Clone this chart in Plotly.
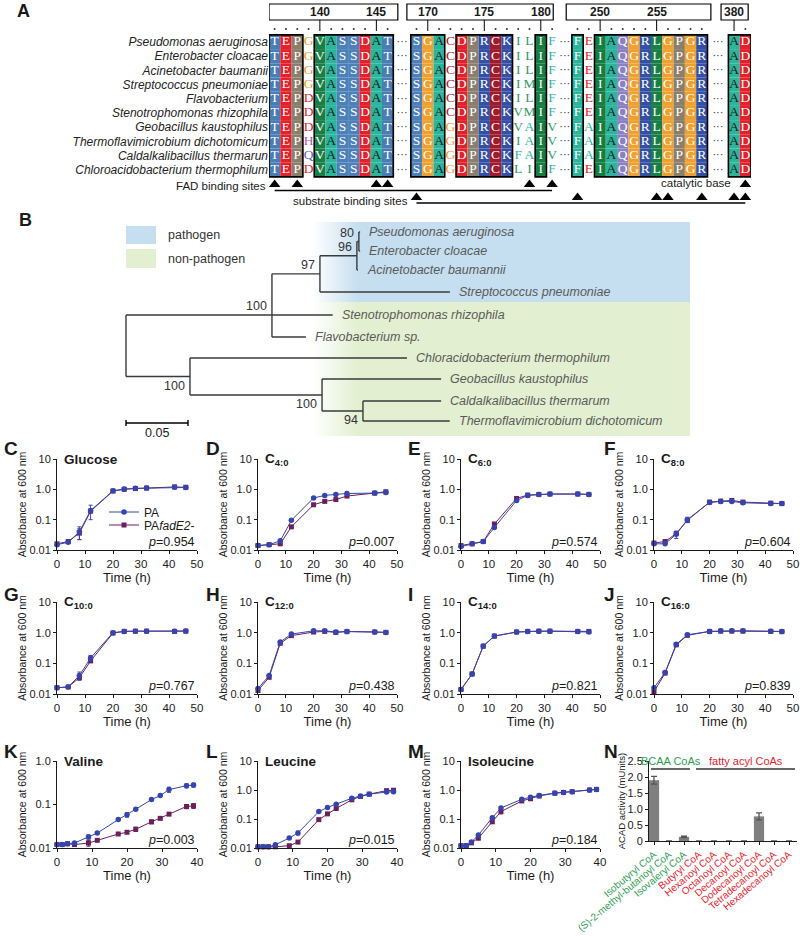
import plotly.graph_objects as go

W, H = 800, 937
SANS = "Liberation Sans, Arial, Helvetica, sans-serif"
SERIF = "Liberation Serif, Times New Roman, serif"
INK = "#1a1a1a"
PA_COLOR = "#3545b0"
FAD_COLOR = "#6d1f5c"

# ======================= DATA =======================
# ---- Panel A: alignment ----
species_A = ["Pseudomonas aeruginosa", "Enterobacter cloacae", "Acinetobacter baumanii",
             "Streptococcus pneumoniae", "Flavobacterium", "Stenotrophomonas rhizophila",
             "Geobacillus kaustophilus", "Thermoflavimicrobium dichotomicum",
             "Caldalkalibacillus thermarun", "Chloroacidobacterium thermophilum"]
block1 = ["TEPGVASSDAT", "TEPGVASSDAT", "TEPGVASSDAT", "TEPGVASSDAT", "TEPDVASSDAT",
          "TEPDVASSDAT", "TEPDVASSDAT", "TEPHVASSDAT", "TEPQVASSDAT", "TEPDVASSDAT"]
block2 = ["SGACDPRCKILIF", "SGACDPRCKILIF", "SGACDPRCKILIF", "SGACDPRCKIMIF", "SGACDPRCKILIF",
          "SGACDPRCKVMIF", "SGAGDPRCKVAIV", "SGAGDPRCKIAIV", "SGAGDPRCKFAIV", "SGAGDPRCKLIIF"]
block3 = ["FEIAQGRLGPGR", "FEIAQGRLGPGR", "FEIAQGRLGPGR", "FEIAQGRLGPGR", "FEIAQGRLGPGR",
          "FEIAQGRLGPGR", "FAIAQGRLGPGR", "FAIAQGRLGPGR", "FAIAQGRLGPGR", "FEIAQGRLGPGR"]
block4 = ["AD"] * 10
block_first_residue = [136, 169, 248, 380]
numbered_residues = [[140, 145], [170, 175, 180], [250, 255], [380]]
conserved_boxes = [(0, 0, 2), (0, 4, 10), (1, 0, 2), (1, 4, 8), (1, 11, 11), (2, 0, 0), (2, 2, 11), (3, 0, 1)]
fad_sites = [(0, 0), (0, 2), (0, 9), (0, 10), (1, 10), (1, 12)]
substrate_sites = [(1, 0), (2, 0), (2, 7), (2, 8), (2, 11), (3, 0), (3, 1)]
catalytic_sites = [(3, 1)]

# ---- Panel B: tree ----
tree_nodes = ["root", "n100a", "n97", "n96", "n80", "Pa", "Ec", "Ab", "Sp", "Sr", "Fl",
              "n100b", "Ct", "n100c", "Gk", "n94", "Cth", "Td"]
tree_parent = [None, "root", "n100a", "n97", "n96", "n80", "n80", "n96", "n97", "n100a", "n100a",
               "root", "n100b", "n100b", "n100c", "n100c", "n94", "n94"]
tree_length = [0, 0.1177, 0.0387, 0.0298, 0.0016, 0.0010, 0.0010, 0.0008, 0.1048, 0.0490, 0.0274,
               0.0516, 0.1750, 0.1065, 0.0960, 0.0330, 0.0630, 0.0700]
tree_support = {"n80": 80, "n96": 96, "n97": 97, "n100a": 100, "n100b": 100, "n100c": 100, "n94": 94}
support_side = {"n80": "top", "n96": "top", "n97": "top", "n100a": "top",
                "n100b": "bottom", "n100c": "bottom", "n94": "bottom"}
leaf_ids = ["Pa", "Ec", "Ab", "Sp", "Sr", "Fl", "Ct", "Gk", "Cth", "Td"]
leaf_names = ["Pseudomonas aeruginosa", "Enterobacter cloacae", "Acinetobacter baumannii",
              "Streptococcus pneumoniae", "Stenotrophomonas rhizophila", "Flavobacterium sp.",
              "Chloracidobacterium thermophilum", "Geobacillus kaustophilus",
              "Caldalkalibacillus thermarum", "Thermoflavimicrobium dichotomicum"]
leaf_order = [0, 0.95, 1.9, 3.0, 4.15, 5.25, 6.3, 7.35, 8.45, 9.45]

# ---- Growth curves ----
t_fa = [0, 4, 8, 12, 20, 24, 28, 32, 42, 46]
t_aa = [0, 1.5, 3, 5, 9, 11.5, 17.5, 20, 22.5, 27, 29.5, 32, 37, 39]

glucose_pa = [0.015, 0.018, 0.040, 0.20, 0.90, 1.02, 1.08, 1.10, 1.18, 1.15]
glucose_fad = [0.016, 0.019, 0.036, 0.19, 0.88, 1.00, 1.06, 1.10, 1.20, 1.17]
glucose_pa_err = [0, 0, 0.018, 0.10, 0.08, 0, 0, 0, 0, 0]
glucose_fad_err = [0, 0, 0.014, 0, 0, 0, 0, 0, 0, 0]
c4_pa = [0.014, 0.015, 0.020, 0.095, 0.52, 0.63, 0.68, 0.73, 0.75, 0.78]
c4_fad = [0.014, 0.015, 0.016, 0.058, 0.31, 0.40, 0.46, 0.60, 0.75, 0.83]
c6_pa = [0.013, 0.016, 0.019, 0.055, 0.43, 0.63, 0.67, 0.70, 0.70, 0.68]
c6_fad = [0.014, 0.016, 0.019, 0.072, 0.50, 0.65, 0.68, 0.70, 0.70, 0.68]
c8_pa = [0.016, 0.016, 0.033, 0.100, 0.37, 0.40, 0.40, 0.36, 0.34, 0.34]
c8_fad = [0.017, 0.019, 0.035, 0.095, 0.38, 0.41, 0.43, 0.38, 0.35, 0.34]
c8_pa_err = [0, 0, 0.009, 0.02, 0, 0, 0.04, 0, 0, 0]
c10_pa = [0.016, 0.017, 0.040, 0.15, 1.00, 1.10, 1.12, 1.12, 1.12, 1.13]
c10_fad = [0.016, 0.017, 0.034, 0.12, 0.97, 1.10, 1.12, 1.12, 1.10, 1.12]
c10_pa_err = [0, 0, 0.012, 0.03, 0, 0, 0, 0, 0, 0]
c12_pa = [0.015, 0.040, 0.50, 0.90, 1.15, 1.15, 1.05, 1.10, 1.05, 1.02]
c12_fad = [0.013, 0.035, 0.45, 0.80, 1.05, 1.10, 1.02, 1.08, 1.05, 1.02]
c14_pa = [0.014, 0.045, 0.37, 0.78, 1.05, 1.10, 1.12, 1.12, 1.10, 1.05]
c14_fad = [0.014, 0.045, 0.36, 0.77, 1.05, 1.10, 1.12, 1.12, 1.10, 1.10]
c16_pa = [0.016, 0.050, 0.42, 0.85, 1.10, 1.15, 1.15, 1.15, 1.12, 1.10]
c16_fad = [0.012, 0.048, 0.40, 0.82, 1.10, 1.12, 1.12, 1.12, 1.10, 1.08]
val_pa = [0.012, 0.012, 0.0125, 0.013, 0.018, 0.022, 0.045, 0.058, 0.078, 0.13, 0.16, 0.22, 0.27, 0.28]
val_fad = [0.012, 0.012, 0.0125, 0.012, 0.013, 0.015, 0.021, 0.023, 0.027, 0.040, 0.048, 0.060, 0.090, 0.093]
val_pa_err = [0, 0, 0, 0, 0.002, 0, 0, 0.007, 0, 0, 0, 0.03, 0.03, 0.03]
val_fad_err = [0, 0, 0, 0, 0.002, 0, 0, 0, 0.003, 0.004, 0, 0, 0.01, 0.012]
leu_pa = [0.011, 0.011, 0.011, 0.013, 0.022, 0.033, 0.18, 0.25, 0.32, 0.52, 0.62, 0.72, 0.85, 0.87]
leu_fad = [0.011, 0.011, 0.011, 0.011, 0.012, 0.016, 0.095, 0.15, 0.23, 0.46, 0.60, 0.72, 0.95, 0.98]
leu_pa_err = [0, 0, 0, 0, 0, 0.005, 0, 0, 0, 0, 0, 0, 0, 0]
ile_pa = [0.012, 0.012, 0.016, 0.028, 0.11, 0.24, 0.48, 0.56, 0.65, 0.78, 0.82, 0.87, 1.00, 1.05]
ile_fad = [0.012, 0.012, 0.015, 0.022, 0.08, 0.18, 0.42, 0.50, 0.62, 0.78, 0.82, 0.87, 1.00, 1.05]
ile_fad_err = [0, 0, 0, 0.003, 0.01, 0.03, 0, 0, 0, 0, 0, 0, 0, 0]

p_values = {"C": "0.954", "D": "0.007", "E": "0.574", "F": "0.604", "G": "0.767", "H": "0.438",
            "I": "0.821", "J": "0.839", "K": "0.003", "L": "0.015", "M": "0.184"}

# ---- Panel N ----
acad_substrates = ["Isobutyryl CoA", "(S)-2-methyl-butanoyl CoA", "Isovaleryl CoA", "Butyryl CoA",
                   "Hexanoyl CoA", "Octanoyl CoA", "Decanoyl CoA", "Dodecanoyl CoA",
                   "Tetradecanoyl CoA", "Hexadecanoyl CoA"]
acad_activity = [1.90, 0, 0.13, 0, 0, 0, 0, 0.77, 0, 0]
acad_err = [0.12, 0, 0.02, 0, 0, 0, 0, 0.11, 0, 0]
acad_group = ["BCAA CoAs"] * 3 + ["fatty acyl CoAs"] * 7
group_colors = {"BCAA CoAs": "#2e9e52", "fatty acyl CoAs": "#e8232c"}

# ======================= STYLES =======================
fill_color = {'T': '#4a7db4', 'E': '#e4202a', 'P': '#8a7e6c', 'V': '#1a7f47', 'A': '#2cb59d',
              'S': '#4d80b8', 'D': '#e4202a', 'G': '#f0a02e', 'C': '#a01a2c', 'R': '#3350a6',
              'K': '#3350a6', 'I': '#167d41', 'F': '#2cb59d', 'Q': '#8a80c4', 'L': '#1a7f47'}
var_text = {'G': '#e89a2a', 'D': '#e4202a', 'H': '#b050b8', 'Q': '#6060c0', 'C': '#a01a2c',
            'I': '#2e9a64', 'L': '#2e9a64', 'M': '#2e9a64', 'V': '#2e9a64', 'A': '#2cb59d',
            'F': '#2eb0ac', 'E': '#e4202a'}
header_pad_left = [0.5, 0.85, 1.0, 1.15]
header_pad_right = [0.9, 0.1, 0.8, 0.25]

fig = go.Figure()
axis_count = [0]


def new_axes(xdom_px, ydom_px, xkw=None, ykw=None):
    axis_count[0] += 1
    i = axis_count[0]
    s = '' if i == 1 else str(i)
    hidden = dict(showgrid=False, zeroline=False, showline=False, showticklabels=False, ticks='',
                  automargin=False)
    xk = dict(hidden); xk.update(xkw or {})
    yk = dict(hidden); yk.update(ykw or {})
    xd = [xdom_px[0] / W, xdom_px[1] / W]
    yd = [1 - ydom_px[1] / H, 1 - ydom_px[0] / H]
    fig.update_layout(**{'xaxis' + s: dict(domain=xd, anchor='y' + s, **xk),
                         'yaxis' + s: dict(domain=yd, anchor='x' + s, **yk)})
    return 'x' + s, 'y' + s


def paper_note(text, xpx, ypx, size=12, xanchor='left', yanchor='middle', color=INK, family=SANS):
    fig.add_annotation(text=text, x=xpx / W, y=1 - ypx / H, xref='paper', yref='paper',
                       showarrow=False, xanchor=xanchor, yanchor=yanchor,
                       font=dict(size=size, color=color, family=family))


# ======================= PANEL A =======================
blocks = [block1, block2, block3, block4]
block_gaps = [1.55, 1.25, 1.85]
ROW_TOP_PX, ROW_PX = 42.0, 14.2


def ay(px):
    return (px - ROW_TOP_PX) / ROW_PX


col_x, gap_centers = [], []
pos = 0.0
for b, blk in enumerate(blocks):
    n = len(blk[0])
    col_x.append([pos + i for i in range(n)])
    pos += n
    if b < len(block_gaps):
        gap_centers.append(pos - 0.5 + block_gaps[b] / 2)
        pos += block_gaps[b]
x_end = pos - 0.5

xa, ya = new_axes((269, 751), (0, 210),
                  dict(range=[-0.5, x_end]),
                  dict(range=[ay(210), ay(0)], showticklabels=True,
                       tickvals=list(range(len(species_A))),
                       ticktext=['<i>%s</i>' % s for s in species_A],
                       tickfont=dict(size=12, color='#222', family=SANS)))

bx, by, bc = [], [], []
lx, ly, lt, lc = [], [], [], []
for b, blk in enumerate(blocks):
    for c, xc in enumerate(col_x[b]):
        letters = [row[c] for row in blk]
        conserved = len(set(letters)) == 1
        for r, ch in enumerate(letters):
            lx.append(xc); ly.append(r); lt.append(ch)
            if conserved:
                bx.append(xc); by.append(r - 0.5); bc.append(fill_color[ch])
                lc.append('#1a1a1a' if ch == 'A' else '#ffffff')
            else:
                lc.append(var_text[ch])
fig.add_trace(go.Bar(x=bx, y=[1] * len(bx), base=by, width=1.0, marker=dict(color=bc, line=dict(width=0)),
                     xaxis=xa, yaxis=ya, showlegend=False, hoverinfo='skip'))
fig.add_trace(go.Scatter(x=lx, y=ly, text=lt, mode='text', textfont=dict(color=lc, size=13.5, family=SERIF),
                         xaxis=xa, yaxis=ya, showlegend=False, hoverinfo='skip', cliponaxis=False))
# ellipses
ex, ey = [], []
for g in gap_centers:
    for r in range(len(species_A)):
        ex.append(g); ey.append(r)
fig.add_trace(go.Scatter(x=ex, y=ey, text=['\u00b7\u00b7\u00b7'] * len(ex), mode='text',
                         textfont=dict(color='#333', size=11, family=SANS),
                         xaxis=xa, yaxis=ya, showlegend=False, hoverinfo='skip'))
# conserved outline boxes
for b, c0, c1 in conserved_boxes:
    fig.add_shape(type='rect', xref=xa, yref=ya, x0=col_x[b][c0] - 0.5, x1=col_x[b][c1] + 0.5,
                  y0=-0.5, y1=len(species_A) - 0.5, line=dict(color='black', width=1.6))
# header boxes, numbers, ticks, dots
dx, dy = [], []
for b in range(len(blocks)):
    fig.add_shape(type='rect', xref=xa, yref=ya, x0=col_x[b][0] - header_pad_left[b],
                  x1=col_x[b][-1] + header_pad_right[b],
                  y0=ay(4), y1=ay(20), line=dict(color='black', width=1.2), fillcolor='white')
    numbered_cols = [rn - block_first_residue[b] for rn in numbered_residues[b]]
    for rn, c in zip(numbered_residues[b], numbered_cols):
        fig.add_annotation(x=col_x[b][c], y=ay(12), xref=xa, yref=ya, text='<b>%d</b>' % rn,
                           showarrow=False, font=dict(size=12, color=INK))
        fig.add_shape(type='line', xref=xa, yref=ya, x0=col_x[b][c], x1=col_x[b][c],
                      y0=ay(20), y1=ay(31), line=dict(color='black', width=1))
    for c, xc in enumerate(col_x[b]):
        if c not in numbered_cols:
            dx.append(xc); dy.append(ay(29))
fig.add_trace(go.Scatter(x=dx, y=dy, mode='markers', marker=dict(size=2, color='#333'),
                         xaxis=xa, yaxis=ya, showlegend=False, hoverinfo='skip'))


def site_row(sites, tri_px, line_px, draw_line=True):
    xs = [col_x[b][c] for b, c in sites]
    if draw_line:
        fig.add_trace(go.Scatter(x=[min(xs), max(xs)], y=[ay(line_px)] * 2, mode='lines',
                                 line=dict(color='black', width=1.3), xaxis=xa, yaxis=ya,
                                 showlegend=False, hoverinfo='skip', cliponaxis=False))
    fig.add_trace(go.Scatter(x=xs, y=[ay(tri_px)] * len(xs), mode='markers',
                             marker=dict(symbol='triangle-up', size=10, color='black'),
                             xaxis=xa, yaxis=ya, showlegend=False, hoverinfo='skip', cliponaxis=False))
    return xs


fx = site_row(fad_sites, 184.5, 190.5)
sx = site_row(substrate_sites, 197.5, 203)
cx = site_row(catalytic_sites, 184.5, 190.5, draw_line=False)
fig.add_annotation(x=fx[0], y=ay(186), xref=xa, yref=ya, text='FAD binding sites', showarrow=False,
                   xanchor='right', xshift=-7, font=dict(size=11.5, color=INK))
fig.add_annotation(x=sx[0], y=ay(201), xref=xa, yref=ya, text='substrate binding sites', showarrow=False,
                   xanchor='right', xshift=-6, font=dict(size=11.5, color=INK))
fig.add_annotation(x=cx[0], y=ay(183), xref=xa, yref=ya, text='catalytic base', showarrow=False,
                   xanchor='right', xshift=-12, font=dict(size=11.5, color=INK))
paper_note('<b>A</b>', 15, 11, size=18)

# ======================= PANEL B =======================
K_PX = 0.05 / 62.0
ROOT_PX = 126.0
LEAF0_PX, LEAF_PX = 232.0, 20.0


def ty(px):
    return (px - LEAF0_PX) / LEAF_PX


def tx(px):
    return (px - ROOT_PX) * K_PX


xt, yt = new_axes((0, 800), (205, 440), dict(range=[tx(0), tx(800)]), dict(range=[ty(440), ty(205)]))

# shading
for color, y0p, y1p in [('197,222,240', 222, 302), ('226,239,208', 302, 436)]:
    x0, x1, y0, y1 = tx(313), tx(690), ty(y0p), ty(y1p)
    fig.add_trace(go.Scatter(x=[x0, x1, x1, x0, x0], y=[y0, y0, y1, y1, y0], mode='none', fill='toself',
                             fillgradient=dict(type='horizontal',
                                               colorscale=[[0, 'rgba(%s,0)' % color], [0.12, 'rgba(%s,1)' % color],
                                                           [1, 'rgba(%s,1)' % color]]),
                             xaxis=xt, yaxis=yt, showlegend=False, hoverinfo='skip'))

node_index = {n: i for i, n in enumerate(tree_nodes)}
children = {n: [] for n in tree_nodes}
for n, p in zip(tree_nodes, tree_parent):
    if p:
        children[p].append(n)
nx, ny = {}, {}


def set_x(n, x):
    nx[n] = x
    for c in children[n]:
        set_x(c, x + tree_length[node_index[c]])


def set_y(n):
    if not children[n]:
        ny[n] = leaf_order[leaf_ids.index(n)]
    else:
        ys = [set_y(c) for c in children[n]]
        ny[n] = ys[len(ys) // 2] if len(ys) % 2 else (ys[0] + ys[-1]) / 2
    return ny[n]


set_x('root', 0.0)
set_y('root')
segx, segy = [], []
for n, p in zip(tree_nodes, tree_parent):
    if p:
        segx += [nx[p], nx[n], None]; segy += [ny[n], ny[n], None]
    if children[n]:
        cy = [ny[c] for c in children[n]]
        segx += [nx[n], nx[n], None]; segy += [min(cy), max(cy), None]
fig.add_trace(go.Scatter(x=segx, y=segy, mode='lines', line=dict(color='#3a3a3a', width=1.4),
                         xaxis=xt, yaxis=yt, showlegend=False, hoverinfo='skip'))
for lid, name in zip(leaf_ids, leaf_names):
    fig.add_annotation(x=nx[lid], y=ny[lid], xref=xt, yref=yt, text='<i>%s</i>' % name, showarrow=False,
                       xanchor='left', xshift=7, font=dict(size=12.5, color='#5a5a5a'))
for n, v in tree_support.items():
    top = support_side[n] == 'top'
    fig.add_annotation(x=nx[n], y=ny[n], xref=xt, yref=yt, text=str(v), showarrow=False,
                       xanchor='right', xshift=-3, yanchor='bottom' if top else 'top',
                       font=dict(size=12.5, color='#333'))
# scale bar
sb = 0.05
fig.add_trace(go.Scatter(x=[0, sb, None, 0, 0, None, sb, sb], y=[ty(423), ty(423), None, ty(420), ty(426), None, ty(420), ty(426)],
                         mode='lines', line=dict(color='black', width=1.4), xaxis=xt, yaxis=yt,
                         showlegend=False, hoverinfo='skip'))
fig.add_annotation(x=sb / 2, y=ty(433), xref=xt, yref=yt, text='0.05', showarrow=False,
                   font=dict(size=12.5, color=INK))
# legend boxes
for color, y0p, y1p, label in [('#c5def0', 226, 244, 'pathogen'), ('#e2efd0', 249, 268, 'non-pathogen')]:
    fig.add_shape(type='rect', xref='paper', yref='paper', x0=126 / W, x1=156 / W, y0=1 - y1p / H, y1=1 - y0p / H,
                  fillcolor=color, line=dict(width=0), layer='below')
    paper_note(label, 166, (y0p + y1p) / 2, size=12.5, color='#333')
paper_note('<b>B</b>', 17, 220, size=18)

# ======================= GROWTH PANELS =======================
tick_txt = {-2: '0.01', -1: '0.1', 0: '1.0', 1: '10'}
ax_common = dict(showline=True, linecolor=INK, linewidth=1, ticks='outside', ticklen=3, tickwidth=1,
                 tickcolor=INK, showticklabels=True, showgrid=False, zeroline=False,
                 tickfont=dict(size=11, color=INK, family=SANS))


def growth(letter, title, xpx, ypx, t, pa, fad, pa_err=None, fad_err=None, xmax=50, erange=(-2, 1),
           legend=False, letter_px=None):
    xk = dict(ax_common, range=[0, xmax], tickvals=list(range(0, xmax + 1, 10)),
              tickfont=dict(size=11.5, color=INK, family=SANS),
              title=dict(text='Time (h)', font=dict(size=13, color=INK), standoff=2))
    exps = list(range(erange[0], erange[1] + 1))
    yk = dict(ax_common, type='log', range=list(erange), tickvals=[10 ** e for e in exps],
              ticktext=[tick_txt[e] for e in exps],
              title=dict(text='Absorbance at 600 nm', font=dict(size=10.5, color=INK), standoff=0))
    xr, yr = new_axes(xpx, ypx, xk, yk)
    for vals, err, color, sym, name, leg in [(fad, fad_err, FAD_COLOR, 'square', 'PA<i>fadE2</i>-', 'legend2'),
                                             (pa, pa_err, PA_COLOR, 'circle', 'PA', 'legend')]:
        fig.add_trace(go.Scatter(x=t, y=vals, mode='lines+markers', name=name,
                                 line=dict(color=color, width=1),
                                 marker=dict(symbol=sym, size=5.5 if sym == 'circle' else 5, color=color),
                                 error_y=dict(type='data', array=err if err else [0] * len(t), color=color,
                                              thickness=1, width=2, visible=True),
                                 xaxis=xr, yaxis=yr, showlegend=legend, legend=leg, cliponaxis=False,
                                 hoverinfo='skip'))
    paper_note('<b>%s</b>' % title, xpx[0] + 5, ypx[0], size=13.5)
    paper_note('<i>p</i>=%s' % p_values[letter], xpx[1], ypx[1] - 8, size=12.5, xanchor='right')
    lxp, lyp = letter_px
    paper_note('<b>%s</b>' % letter, lxp, lyp, size=19)


COLS = [(57, 197), (258, 397), (461, 600), (654, 793)]
ROW1, ROW2, ROW3 = (459, 550), (602, 694), (761, 848)
LX = [2, 204, 406, 602]
growth('C', 'Glucose', COLS[0], ROW1, t_fa, glucose_pa, glucose_fad, glucose_pa_err, glucose_fad_err,
       legend=True, letter_px=(LX[0], 448))
growth('D', 'C<sub>4:0</sub>', COLS[1], ROW1, t_fa, c4_pa, c4_fad, letter_px=(LX[1], 448))
growth('E', 'C<sub>6:0</sub>', COLS[2], ROW1, t_fa, c6_pa, c6_fad, letter_px=(LX[2], 448))
growth('F', 'C<sub>8:0</sub>', COLS[3], ROW1, t_fa, c8_pa, c8_fad, c8_pa_err, letter_px=(LX[3], 448))
growth('G', 'C<sub>10:0</sub>', COLS[0], ROW2, t_fa, c10_pa, c10_fad, c10_pa_err, letter_px=(LX[0], 594))
growth('H', 'C<sub>12:0</sub>', COLS[1], ROW2, t_fa, c12_pa, c12_fad, letter_px=(LX[1], 594))
growth('I', 'C<sub>14:0</sub>', COLS[2], ROW2, t_fa, c14_pa, c14_fad, letter_px=(LX[2], 594))
growth('J', 'C<sub>16:0</sub>', COLS[3], ROW2, t_fa, c16_pa, c16_fad, letter_px=(LX[3], 594))
growth('K', 'Valine', COLS[0], ROW3, t_aa, val_pa, val_fad, val_pa_err, val_fad_err, xmax=40, erange=(-2, 0),
       letter_px=(LX[0], 751))
growth('L', 'Leucine', COLS[1], ROW3, t_aa, leu_pa, leu_fad, leu_pa_err, xmax=40, letter_px=(LX[1], 751))
growth('M', 'Isoleucine', COLS[2], ROW3, t_aa, ile_pa, ile_fad, None, ile_fad_err, xmax=40,
       letter_px=(LX[2], 751))

# ======================= PANEL N =======================
BAR0_PX, BAR_STEP_PX = 654.0, 15.0
nxk = dict(ax_common, range=[(649 - BAR0_PX) / BAR_STEP_PX, (797 - BAR0_PX) / BAR_STEP_PX],
           tickvals=list(range(len(acad_substrates))),
           ticktext=['<span style="color:%s">%s</span>' % (group_colors[g], s)
                     for s, g in zip(acad_substrates, acad_group)],
           tickangle=-40, tickfont=dict(size=10, family=SANS))
nyk = dict(ax_common, range=[0, 2.5], tickvals=[0, 0.5, 1, 1.5, 2, 2.5],
           ticktext=['0', '0.5', '1.0', '1.5', '2.0', '2.5'],
           title=dict(text='ACAD activity (mUnits)', font=dict(size=9.5, color=INK), standoff=0))
xn, yn = new_axes((649, 797), (761, 841), nxk, nyk)
fig.add_trace(go.Bar(x=list(range(len(acad_substrates))), y=acad_activity, width=0.68,
                     marker=dict(color='#7f7f7f', line=dict(width=0)),
                     error_y=dict(type='data', array=acad_err, color='#555', thickness=1.3, width=3),
                     xaxis=xn, yaxis=yn, showlegend=False, hoverinfo='skip'))
for g in ["BCAA CoAs", "fatty acyl CoAs"]:
    idx = [i for i, gg in enumerate(acad_group) if gg == g]
    x0, x1 = idx[0] - 0.2, idx[-1] + 0.4
    fig.add_shape(type='line', xref=xn, yref=yn, x0=x0, x1=x1, y0=2.25, y1=2.25,
                  line=dict(color='#333', width=1.3))
    fig.add_annotation(x=(x0 + x1) / 2, y=2.5, xref=xn, yref=yn, text=g, showarrow=False,
                       font=dict(size=11, color=group_colors[g]))
paper_note('<b>N</b>', 602, 751, size=19)

# ======================= LAYOUT =======================
fig.update_layout(
    template='none',
    width=W, height=H, autosize=False, margin=dict(l=0, r=0, t=0, b=0, autoexpand=False),
    paper_bgcolor='white', plot_bgcolor='rgba(0,0,0,0)', barmode='overlay',
    font=dict(family=SANS, color=INK, size=12),
    legend=dict(x=104 / W, y=1 - 512 / H, xanchor='left', yanchor='middle', bgcolor='rgba(0,0,0,0)',
                font=dict(size=12, color=INK), itemwidth=30),
    legend2=dict(x=104 / W, y=1 - 525 / H, xanchor='left', yanchor='middle', bgcolor='rgba(0,0,0,0)',
                 font=dict(size=12, color=INK), itemwidth=30),
)

fig.write_html("out.html", config={'displayModeBar': False},
               post_script="document.body.style.margin='0';")
